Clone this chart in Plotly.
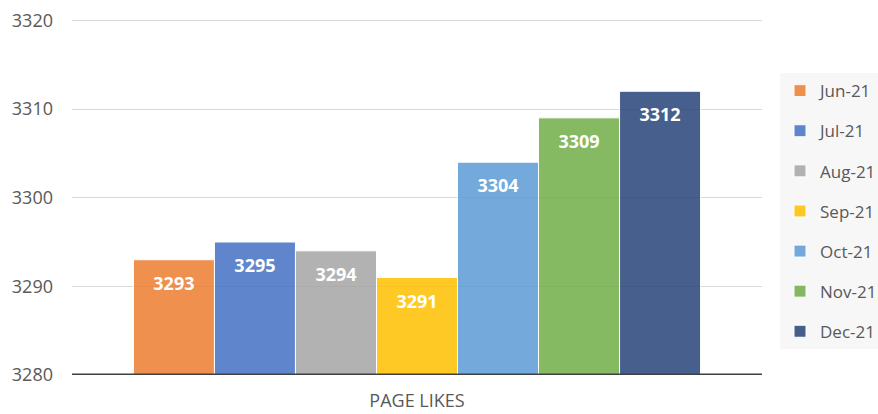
import plotly.graph_objects as go

category = ["PAGE LIKES"]
months = ["Jun-21", "Jul-21", "Aug-21", "Sep-21", "Oct-21", "Nov-21", "Dec-21"]
likes = [3293, 3295, 3294, 3291, 3304, 3309, 3312]
colors = ["#ED7D31", "#4472C4", "#A5A5A5", "#FFC000", "#5B9BD5", "#70AD47", "#264478"]
y_ticks = [3280, 3290, 3300, 3310, 3320]

fig = go.Figure()
for m, v, c in zip(months, likes, colors):
    fig.add_trace(go.Bar(
        name=m, x=category, y=[v],
        marker=dict(color=c, line=dict(color="white", width=1)),
        opacity=0.85, legendgroup=m, hoverinfo="skip",
    ))
for m, v in zip(months, likes):
    fig.add_trace(go.Scatter(
        x=category, y=[v], mode="markers+text", text=[str(v)],
        textposition="bottom center",
        marker=dict(size=25, color="rgba(0,0,0,0)"),
        textfont=dict(color="white", size=18, family="Open Sans", weight="bold"),
        showlegend=False, hoverinfo="skip", legendgroup=m,
    ))

fig.update_layout(
    width=878, height=414,
    margin=dict(l=72, r=116, t=19, b=39, autoexpand=False),
    paper_bgcolor="white", plot_bgcolor="white",
    barmode="group", bargap=0.178, bargroupgap=0,
    scattermode="group", scattergap=0.178,
    font=dict(family="Open Sans", color="#595959", size=18),
    xaxis=dict(showgrid=False, showline=False, ticks="", tickfont=dict(size=18),
               ticklabelstandoff=13, automargin=False),
    yaxis=dict(range=[3280, 3320.15], tickvals=y_ticks, showgrid=True,
               gridcolor="#D9D9D9", gridwidth=1, zeroline=False, showline=False,
               tickfont=dict(size=18), ticklabelstandoff=18, automargin=False),
    legend=dict(x=1.0261, y=0.848, xanchor="left", yanchor="top",
                bgcolor="#F7F7F7", traceorder="grouped", tracegroupgap=15,
                font=dict(size=17, color="#595959")),
    showlegend=True,
)
fig.add_shape(type="line", xref="paper", yref="y", x0=0, x1=1, y0=3280, y1=3280,
              line=dict(color="#404040", width=3))
fig.write_html("out.html", config={"displayModeBar": False},
               post_script="document.body.style.margin='0';")
